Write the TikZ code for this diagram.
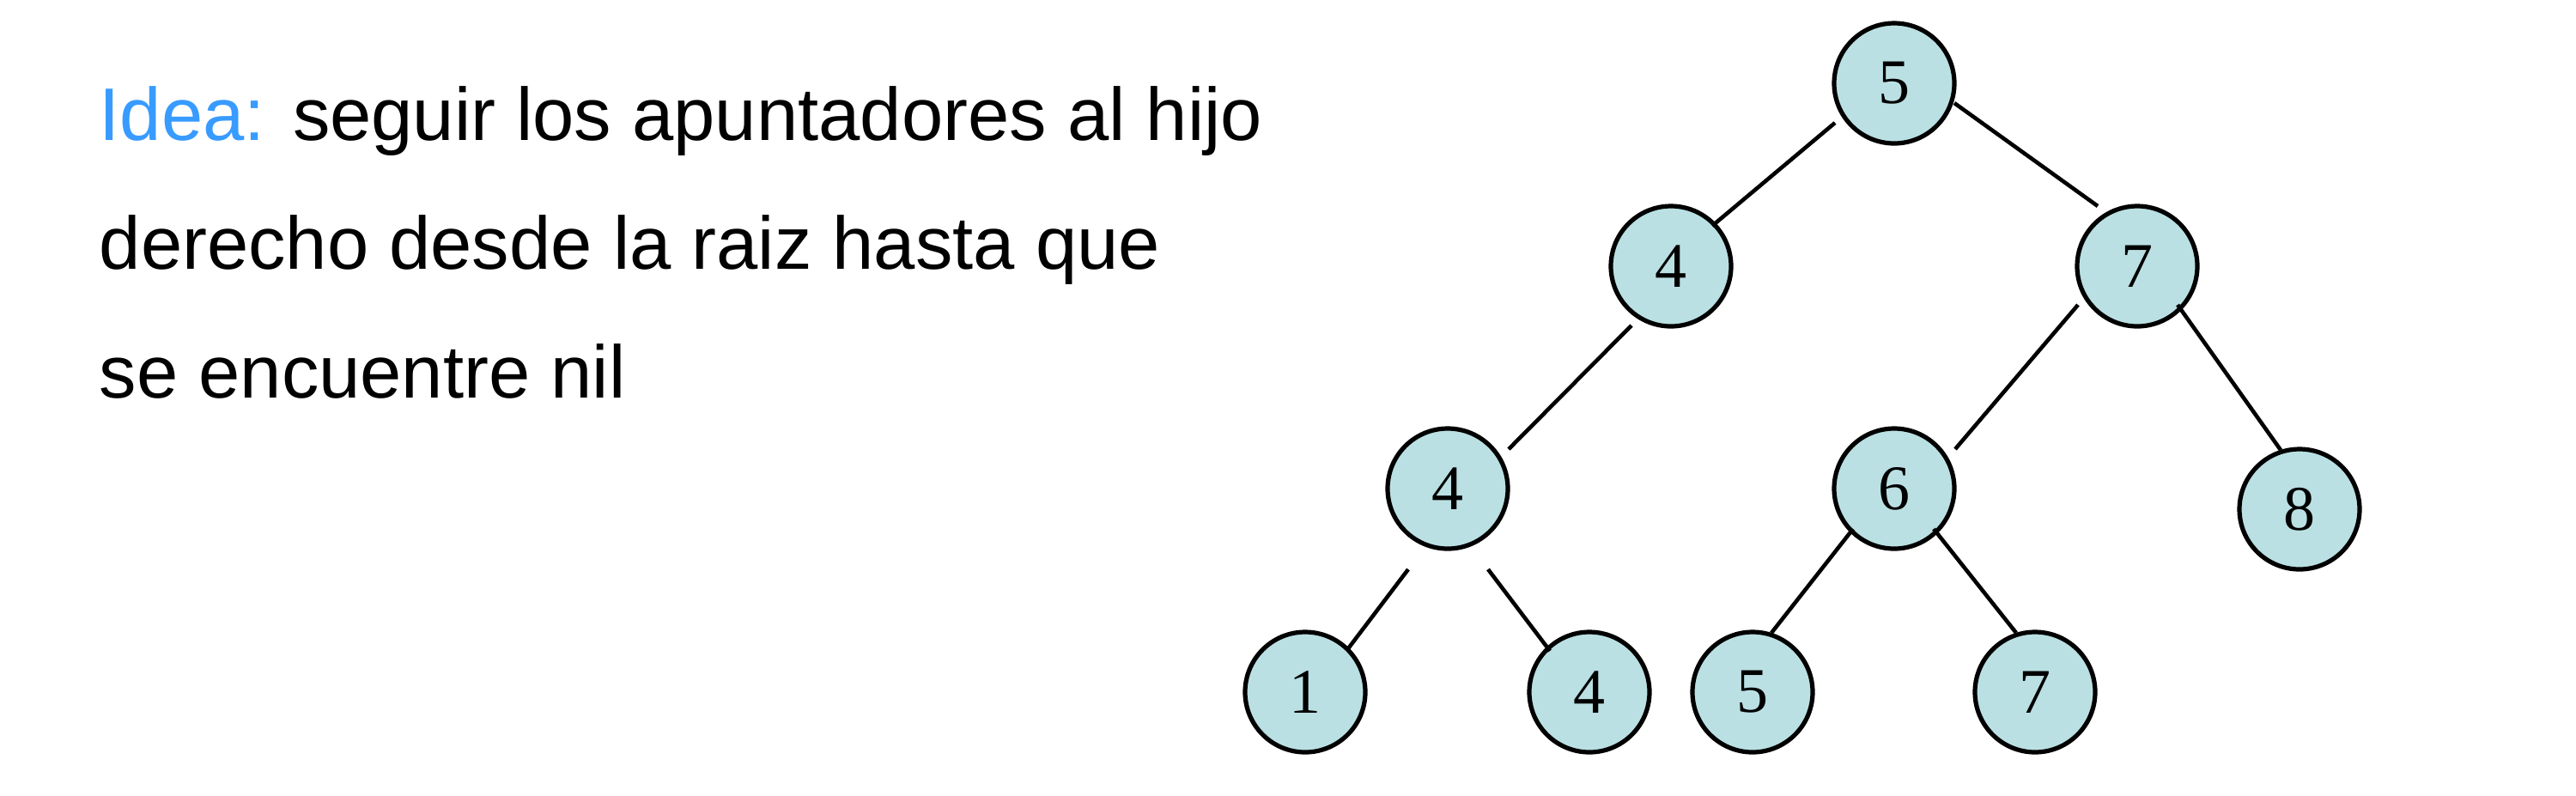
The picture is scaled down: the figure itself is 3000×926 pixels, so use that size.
\documentclass[tikz,border=0pt]{standalone}
\usepackage{fontspec}
\setmainfont{Liberation Serif}
\newfontfamily\textfnt{Liberation Sans}
\definecolor{nodefill}{RGB}{186,224,227}
\definecolor{ideablue}{RGB}{56,155,255}
\begin{document}
\begin{tikzpicture}[x=0.25pt,y=-0.25pt,
  tnode/.style={circle,draw=black,fill=nodefill,line width=1.3pt,minimum size=35pt,inner sep=0pt,
    font=\fontsize{18.5}{20}\selectfont},
  edge/.style={line width=1.15pt,black},
  txt/.style={anchor=base west,inner sep=0pt,font=\textfnt\fontsize{21.7}{25}\selectfont}]
\useasboundingbox[fill=white] (0,0) rectangle (3000,926);
% text
\node[txt] (l1) at (115,163) {\textcolor{ideablue}{Idea:} seguir los apuntadores al hijo};
\node[txt] (l2) at (115,313) {derecho desde la raiz hasta que};
\node[txt] (l3) at (115,463) {se encuentre nil};
% nodes
\node[tnode] (r)  at (2206,97)  {5};
\node[tnode] (a)  at (1946,310) {4};
\node[tnode] (b)  at (2489,310) {7};
\node[tnode] (c)  at (1686,569) {4};
\node[tnode] (d)  at (2206,569) {6};
\node[tnode] (e)  at (2678,593) {8};
\node[tnode] (f)  at (1520,806) {1};
\node[tnode] (g)  at (1851,806) {4};
\node[tnode] (h)  at (2041,806) {5};
\node[tnode] (i)  at (2370,806) {7};
% connector ends
\coordinate (ra1) at (2137,143); \coordinate (ra2) at (1994,263);
\coordinate (rb1) at (2276,120); \coordinate (rb2) at (2443,240);
\coordinate (ac1) at (1900,379); \coordinate (ac2) at (1757,523);
\coordinate (bd1) at (2420,355); \coordinate (bd2) at (2277,523);
\coordinate (be1) at (2536,355); \coordinate (be2) at (2656,524);
\coordinate (cf1) at (1640,663); \coordinate (cf2) at (1568,758);
\coordinate (cg1) at (1733,663); \coordinate (cg2) at (1805,758);
\coordinate (dh1) at (2158,616); \coordinate (dh2) at (2063,737);
\coordinate (di1) at (2252,616); \coordinate (di2) at (2348,737);
\draw[edge] (ra1) -- (ra2);
\draw[edge] (rb1) -- (rb2);
\draw[edge] (ac1) -- (ac2);
\draw[edge] (bd1) -- (bd2);
\draw[edge] (be1) -- (be2);
\draw[edge] (cf1) -- (cf2);
\draw[edge] (cg1) -- (cg2);
\draw[edge] (dh1) -- (dh2);
\draw[edge] (di1) -- (di2);
\end{tikzpicture}
\end{document}
